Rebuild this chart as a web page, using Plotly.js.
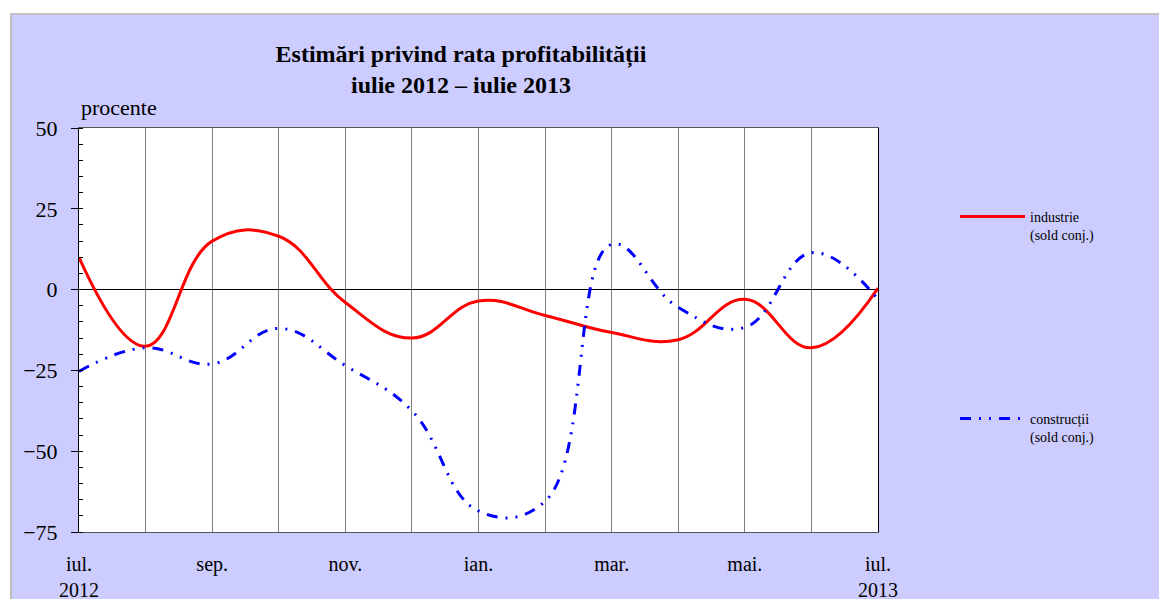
<!DOCTYPE html>
<html>
<head>
<meta charset="utf-8">
<script src="https://cdn.plot.ly/plotly-3.0.1.min.js"></script>
<style>
  html, body { margin: 0; padding: 0; background: #ffffff; }
  #frame { position: absolute; left: 10px; top: 13px; width: 1149px; height: 586px;
           background: #CCCCFF; border-top: 2px solid #C0C0C0; border-left: 2px solid #C0C0C0; box-sizing: border-box; }
  #chart { position: absolute; left: 0; top: 0; width: 1159px; height: 599px; }
</style>
</head>
<body>
<div id="frame"></div>
<div id="chart"></div>
<script>
// month index 0..12 : iul. 2012 .. iul. 2013
const monthIndex = [0, 1, 2, 3, 4, 5, 6, 7, 8, 9, 10, 11, 12];
const monthLabels = ['iul.<br>2012', '', 'sep.', '', 'nov.', '', 'ian.', '', 'mar.', '', 'mai.', '', 'iul.<br>2013'];
const industrie = [10, -17.5, 15, 16.5, -4, -15, -3.5, -8, -13.3, -15.5, -3, -18, 0.5];
const constructii = [-25.3, -18, -23, -12, -23.5, -37.5, -68.5, -65.5, 14, -5.5, -11.7, 11.4, -3];
const yTicks = [-75, -50, -25, 0, 25, 50];

const serif = 'Liberation Serif, Times New Roman, serif';

const traces = [
  {
    x: monthIndex, y: industrie, type: 'scatter', mode: 'lines',
    name: 'industrie<br>(sold conj.)',
    line: { color: '#FF0000', width: 3, shape: 'spline', smoothing: 1.2 },
    legend: 'legend'
  },
  {
    x: monthIndex, y: constructii, type: 'scatter', mode: 'lines',
    name: 'construcții<br>(sold conj.)',
    line: { color: '#0000FF', width: 3, shape: 'spline', smoothing: 1.2, dash: '11px,8px,2px,8px,2px,8px' },
    legend: 'legend2'
  }
];

const layout = {
  width: 1159, height: 599,
  paper_bgcolor: 'rgba(0,0,0,0)',
  plot_bgcolor: '#FFFFFF',
  margin: { l: 79, r: 281, t: 128, b: 67 },
  font: { family: serif, color: '#000000', size: 22 },
  title: {
    text: '<b>Estimări privind rata profitabilității<br>iulie 2012 – iulie 2013</b>',
    font: { family: serif, size: 24, color: '#000000' },
    x: 461 / 1159, xanchor: 'center', xref: 'container',
    y: 1 - 62 / 599, yanchor: 'top', yref: 'container'
  },
  xaxis: {
    range: [0, 12],
    tickmode: 'array', tickvals: monthIndex, ticktext: monthLabels,
    showgrid: true, gridcolor: '#808080', gridwidth: 1,
    ticks: 'outside', ticklen: 14, tickcolor: 'rgba(0,0,0,0)',
    showline: true, linecolor: '#555555', linewidth: 1, mirror: true,
    zeroline: false,
    tickfont: { family: serif, size: 20, color: '#000000' },
    fixedrange: true
  },
  yaxis: {
    range: [-75, 50],
    tickmode: 'array', tickvals: yTicks,
    showgrid: false,
    ticks: 'outside', ticklen: 7, tickcolor: '#000000', tickwidth: 1,
    ticklabelstandoff: 9,
    minor: { dtick: 5, ticks: 'inside', ticklen: 4, tickcolor: '#000000', showgrid: false },
    showline: true, linecolor: '#000000', linewidth: 1, mirror: true,
    zeroline: true, zerolinecolor: '#000000', zerolinewidth: 1,
    tickfont: { family: serif, size: 22, color: '#000000' },
    fixedrange: true
  },
  showlegend: true,
  legend: {
    x: (955 - 79) / 799, y: (532 - 201) / 404, xanchor: 'left', yanchor: 'top',
    bgcolor: 'rgba(0,0,0,0)', borderwidth: 0,
    font: { family: serif, size: 14, color: '#000000' },
    itemwidth: 65, valign: 'top'
  },
  legend2: {
    x: (955 - 79) / 799, y: (532 - 403) / 404, xanchor: 'left', yanchor: 'top',
    bgcolor: 'rgba(0,0,0,0)', borderwidth: 0,
    font: { family: serif, size: 14, color: '#000000' },
    itemwidth: 65, valign: 'top'
  },
  annotations: [
    {
      text: 'procente', xref: 'paper', yref: 'paper', x: 0, y: 1,
      xanchor: 'left', yanchor: 'bottom', yshift: 6, showarrow: false,
      font: { family: serif, size: 22, color: '#000000' }
    }
  ]
};

Plotly.newPlot('chart', traces, layout, { displayModeBar: false, staticPlot: true });
</script>
</body>
</html>
